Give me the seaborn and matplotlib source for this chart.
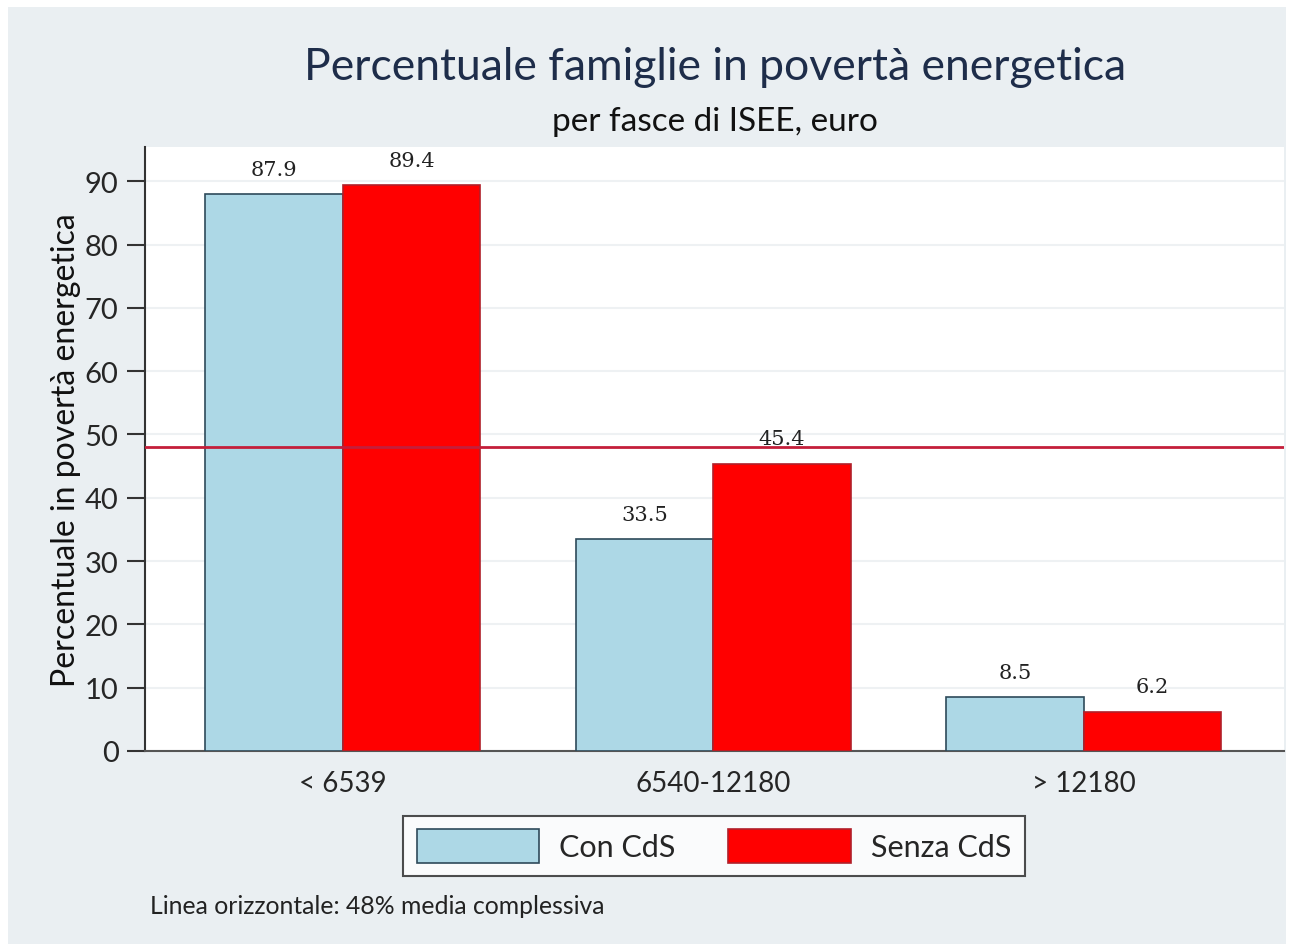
import matplotlib
matplotlib.use("Agg")
import matplotlib.pyplot as plt
import seaborn as sns
import pandas as pd
from matplotlib.patches import Patch

categories = ["< 6539", "6540-12180", "> 12180"]
series_names = ["Con CdS", "Senza CdS"]
con_cds = [87.9, 33.5, 8.5]
senza_cds = [89.4, 45.4, 6.2]
media = 48
yticks = [0, 10, 20, 30, 40, 50, 60, 70, 80, 90]

df = pd.DataFrame({
    "fascia": categories * 2,
    "serie": [series_names[0]] * 3 + [series_names[1]] * 3,
    "valore": con_cds + senza_cds,
})

sns.set_theme(style="white")
plt.rcParams["font.family"] = ["Lato", "DejaVu Sans"]

bg = "#EAEFF2"
fig = plt.figure(figsize=(12.94, 9.53), dpi=100, facecolor="white")
fig.patches.append(plt.Rectangle((8 / 1294, 8 / 953), 1278 / 1294, 937 / 953,
                                 transform=fig.transFigure, facecolor=bg,
                                 edgecolor="none", zorder=-10))
ax = fig.add_axes([145 / 1294, 1 - 752 / 953, (1284 - 145) / 1294, (752 - 148) / 953])
ax.set_facecolor("white")

palette = {"Con CdS": "#ADD8E6", "Senza CdS": "#FF0000"}
sns.barplot(data=df, x="fascia", y="valore", hue="serie", order=categories,
            hue_order=series_names, palette=palette, width=0.742, saturation=1,
            ax=ax, legend=False, zorder=3)
edges = {"Con CdS": "#2E4A5A", "Senza CdS": "#B0202A"}
for cont, name in zip(ax.containers, series_names):
    for p in cont:
        p.set_edgecolor(edges[name])
        p.set_linewidth(1.2)
    ax.bar_label(cont, labels=[f"{v:.1f}" for v in cont.datavalues], padding=11,
                 fontsize=15, family="DejaVu Serif", color="#222222")

ax.axhline(media, color="#C41E3A", lw=2, zorder=4)

ax.set_xlim(-0.534, 2.54)
ax.set_ylim(0, 95.4)
ax.set_yticks(yticks)
ax.yaxis.grid(True, color="#EEF1F3", lw=1.5, zorder=0)
ax.set_axisbelow(True)
for s in ["top", "right"]:
    ax.spines[s].set_visible(False)
ax.spines["left"].set_color("#333333")
ax.spines["bottom"].set_color("#555555")
ax.spines["left"].set_linewidth(1.5)
ax.spines["bottom"].set_linewidth(1.5)
ax.tick_params(axis="y", direction="out", length=13, width=1.5, color="#333333",
               labelsize=21, pad=6, left=True)
ax.tick_params(axis="x", length=0, labelsize=20, pad=14)
ax.set_xlabel("")
ax.set_ylabel("Percentuale in povertà energetica", fontsize=23, labelpad=3, color="#111111")

fig.text(715 / 1294, 1 - 68 / 953, "Percentuale famiglie in povertà energetica",
         ha="center", va="center", fontsize=32, color="#1E2D4A")
fig.text(715 / 1294, 1 - 122 / 953, "per fasce di ISEE, euro",
         ha="center", va="center", fontsize=24, color="#111111")

handles = [Patch(facecolor=palette[n], edgecolor=edges[n], lw=1.2, label=n) for n in series_names]
leg = fig.legend(handles=handles, loc="center", bbox_to_anchor=(714 / 1294, 1 - 847 / 953),
                 ncol=2, fontsize=22, frameon=True, fancybox=False, handlelength=4.0,
                 handleheight=1.3, columnspacing=1.73, borderpad=0.45, handletextpad=0.65)
leg.get_frame().set_edgecolor("#222222")
leg.get_frame().set_linewidth(1.5)
leg.get_frame().set_facecolor("white")

fig.text(150 / 1294, 1 - 907 / 953, "Linea orizzontale: 48% media complessiva",
         ha="left", va="center", fontsize=17.8, color="#222222")

fig.savefig("out.png", dpi=100, facecolor="white")
